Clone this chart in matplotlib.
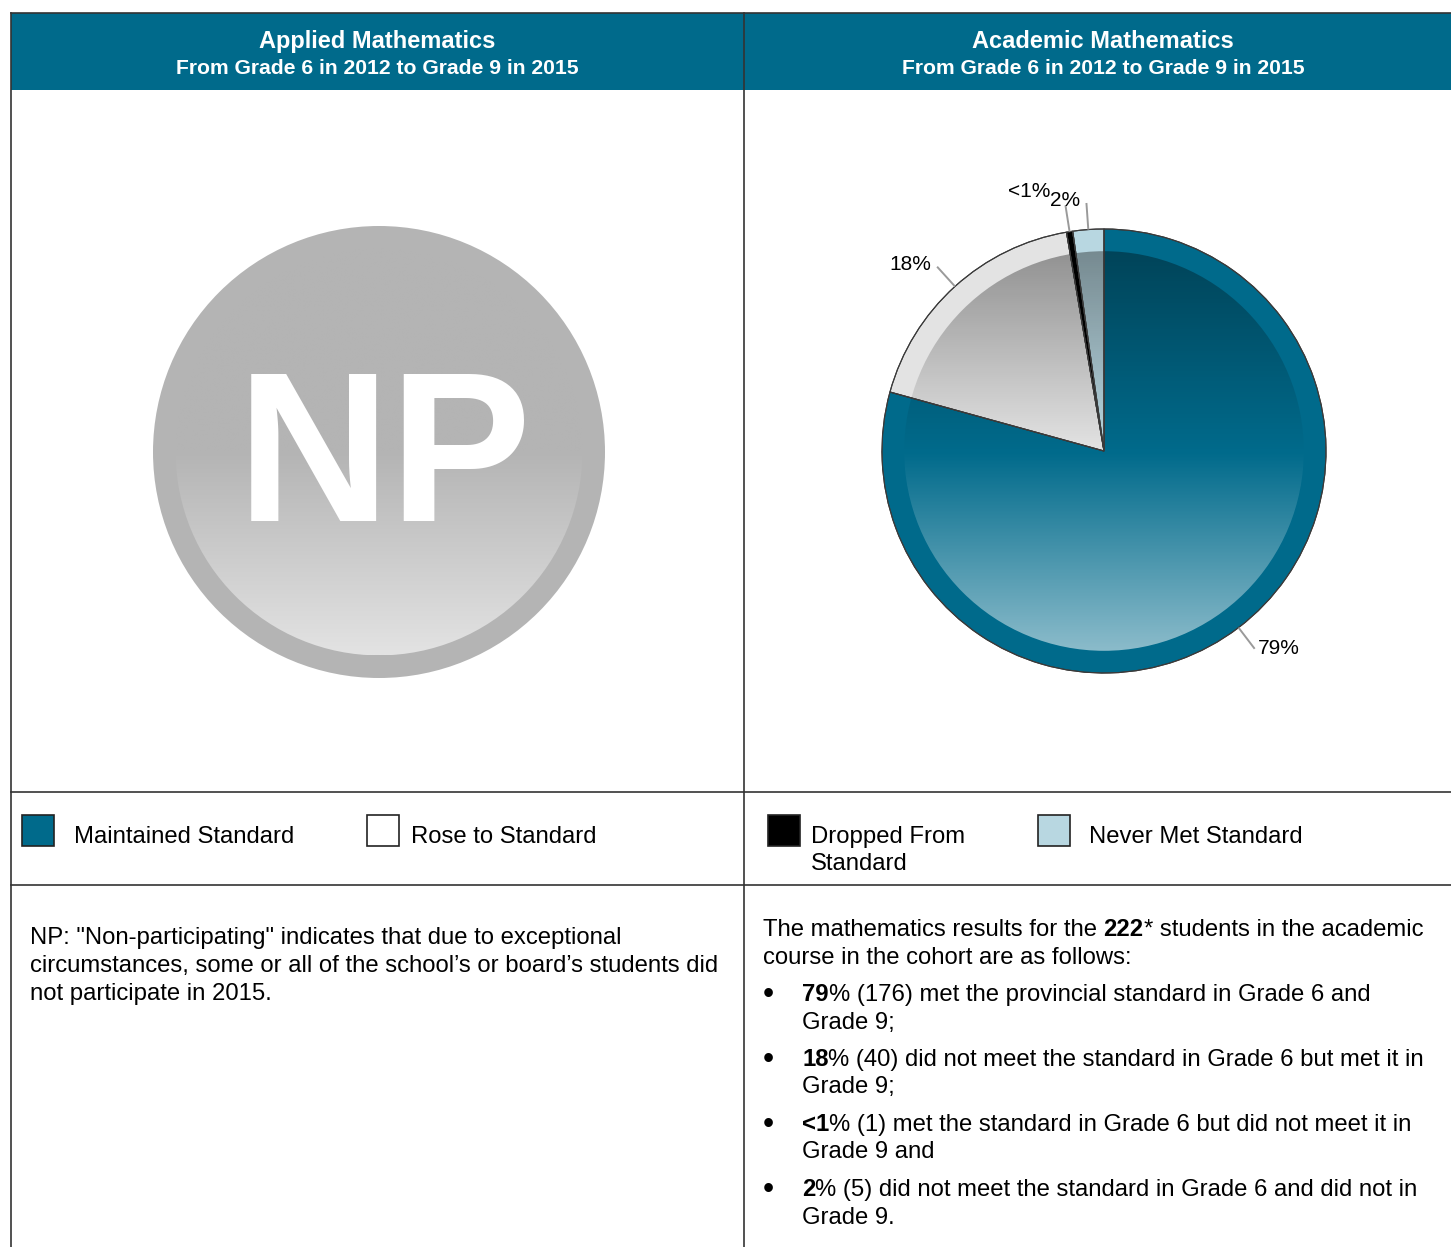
import numpy as np
import matplotlib.pyplot as plt
from matplotlib.patches import Rectangle, Circle, Wedge

plt.rcParams['font.family'] = ['Liberation Sans', 'DejaVu Sans']

# data
panel_titles = ['Applied Mathematics', 'Academic Mathematics']
panel_subtitle = 'From Grade 6 in 2012 to Grade 9 in 2015'
categories = ['Maintained Standard', 'Rose to Standard', 'Dropped From\nStandard', 'Never Met Standard']
counts = [176, 40, 1, 5]            # academic cohort, 222 students
pct_labels = ['79%', '18%', '<1%', '2%']
pie_colors = ['#006A8B', '#E3E3E3', '#000000', '#B8D7E1']
legend_colors = ['#006A8B', '#FFFFFF', '#000000', '#B8D7E1']
np_note = ['NP: "Non-participating" indicates that due to exceptional',
           'circumstances, some or all of the school\u2019s or board\u2019s students did',
           'not participate in 2015.']
intro = [('The mathematics results for the ', 'normal'), ('222', 'bold'),
         ('* students in the academic', 'normal')]
intro2 = 'course in the cohort are as follows:'
bullets = [
    [('79', '% (176) met the provincial standard in Grade 6 and'), 'Grade 9;'],
    [('18', '% (40) did not meet the standard in Grade 6 but met it in'), 'Grade 9;'],
    [('<1', '% (1) met the standard in Grade 6 but did not meet it in'), 'Grade 9 and'],
    [('2', '% (5) did not meet the standard in Grade 6 and did not in'), 'Grade 9.'],
]

W, H = 1451, 1247
TEAL = '#006A8B'
LINE = '#333333'
FS = 17.2

fig = plt.figure(figsize=(W / 100, H / 100), dpi=100)
ax = fig.add_axes([0, 0, 1, 1])
ax.set_xlim(0, W)
ax.set_ylim(H, 0)
ax.axis('off')
renderer = fig.canvas.get_renderer()

# frame and header band
ax.add_patch(Rectangle((11, 13), W - 11, 77, color=TEAL, lw=0))
for y in (13, 792, 885):
    ax.plot([11, W], [y, y], color=LINE, lw=1.2)
ax.plot([11, 11], [13, H], color=LINE, lw=1.2)
ax.plot([744, 744], [13, H], color=LINE, lw=1.2)

for cx, title in zip([377, 1103], panel_titles):
    ax.text(cx, 48, title, color='white', fontsize=17, fontweight='bold', ha='center', va='baseline')
    ax.text(cx, 74, panel_subtitle, color='white', fontsize=15.2, fontweight='bold',
            ha='center', va='baseline')


def circle_axes(cx, cy, r_px, lim=1.4):
    size = 2 * lim * r_px
    a = fig.add_axes([(cx - size / 2) / W, (H - cy - size / 2) / H, size / W, size / H])
    return a


# NP badge
npax = circle_axes(379, 452, 226)
npax.add_patch(Circle((0, 0), 1, color='#B4B4B4', lw=0))
n = 400
yy = np.linspace(0.9, -0.9, n)[:, None] * np.ones((1, n))
t = np.clip(-yy / 0.9, 0, 1)
g = (0xB4 + (0xE3 - 0xB4) * t) / 255
img = np.dstack([g, g, g])
im = npax.imshow(img, extent=[-0.9, 0.9, -0.9, 0.9], interpolation='bilinear', zorder=2)
im.set_clip_path(Circle((0, 0), 0.9, transform=npax.transData))
npax.text(384, 521, 'NP', color='white', fontsize=153, fontweight='bold', ha='center',
          va='baseline', zorder=5, transform=ax.transData)
npax.set_xlim(-1.4, 1.4)
npax.set_ylim(-1.4, 1.4)
npax.axis('off')

# academic pie
pax = circle_axes(1104, 451, 222)
wedges, _ = pax.pie(counts, colors=pie_colors, startangle=90, counterclock=False,
                    radius=1, wedgeprops=dict(edgecolor='#3A3A3A', linewidth=0.8))
r_in = 0.9
rgba = np.zeros((n, n, 4))
yy = np.linspace(r_in, -r_in, n)[:, None] * np.ones((1, n))
top = yy > 0
rgba[..., 3] = np.where(top, 0.36 * yy / r_in, 0.55 * (-yy) / r_in)
rgba[..., :3] = np.where(top[..., None], 0.0, 1.0)
im = pax.imshow(rgba, extent=[-r_in, r_in, -r_in, r_in], interpolation='bilinear', zorder=3)
im.set_clip_path(Circle((0, 0), r_in, transform=pax.transData))
for w in wedges:
    pax.add_patch(Wedge(w.center, w.r, w.theta1, w.theta2, fill=False,
                        edgecolor='#3A3A3A', lw=0.8, zorder=4))

label_offsets = [(3, 0), (-6, 2), (-15, 14), (-6, 2)]
for w, lab, off in zip(wedges, pct_labels, label_offsets):
    ang = np.deg2rad((w.theta1 + w.theta2) / 2)
    p0 = (np.cos(ang), np.sin(ang))
    p1 = (1.12 * np.cos(ang), 1.12 * np.sin(ang))
    pax.plot([p0[0], p1[0]], [p0[1], p1[1]], color='#9A9A9A', lw=1.4, zorder=5,
             solid_capstyle='butt')
    pax.annotate(lab, p1, xytext=off, textcoords='offset pixels', fontsize=15,
                 ha='left' if p1[0] > 0 else 'right', va='center', zorder=6)
pax.set_xlim(-1.4, 1.4)
pax.set_ylim(-1.4, 1.4)
pax.set_aspect('equal')
pax.axis('off')

# legend row
box_x = [22, 367, 768, 1038]
text_x = [74, 411, 811, 1089]
for bx, tx, lab, c in zip(box_x, text_x, categories, legend_colors):
    ax.add_patch(Rectangle((bx, 815), 32, 31, facecolor=c, edgecolor='#222222', lw=1.2))
    for k, part in enumerate(lab.split('\n')):
        ax.text(tx, 843 + 27 * k, part, fontsize=FS, ha='left', va='baseline')

# notes
for k, line in enumerate(np_note):
    ax.text(30, 944 + 28 * k, line, fontsize=FS, ha='left', va='baseline')


def rich_line(x, y, parts):
    for s, weight in parts:
        txt = ax.text(x, y, s, fontsize=FS, fontweight=weight, ha='left', va='baseline')
        x += txt.get_window_extent(renderer).width
    return x


space = (ax.text(0, 0, 'x x', fontsize=FS).get_window_extent(renderer).width
         - ax.text(0, 0, 'xx', fontsize=FS).get_window_extent(renderer).width)
for t_ in ax.texts[-2:]:
    t_.remove()

x = 763
txt = ax.text(x, 936, intro[0][0].rstrip(), fontsize=FS, ha='left', va='baseline')
x += txt.get_window_extent(renderer).width + space
rich_line(x, 936, intro[1:])
ax.text(763, 964, intro2, fontsize=FS, ha='left', va='baseline')

for i, (first, second) in enumerate(bullets):
    yb = 1001 + 65 * i
    ax.text(768, yb + 2, '\u2022', fontsize=23, ha='center', va='baseline')
    rich_line(802, yb, [(first[0], 'bold'), (first[1], 'normal')])
    ax.text(802, yb + 27.5, second, fontsize=FS, ha='left', va='baseline')

fig.savefig('out.png', dpi=100)
